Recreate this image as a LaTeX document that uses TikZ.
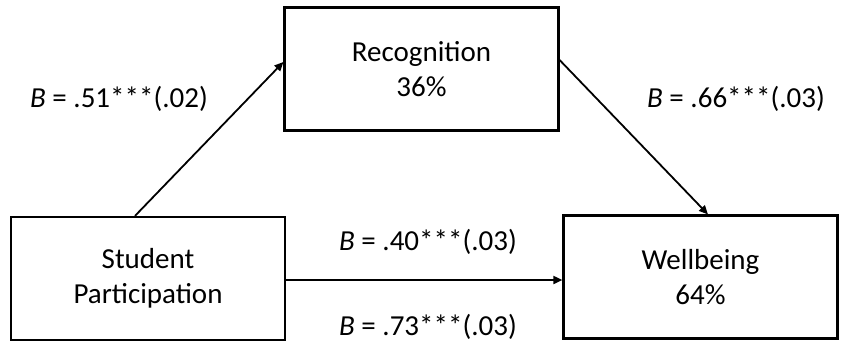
\documentclass[tikz,border=0pt]{standalone}
\usepackage{fontspec}
\setmainfont{Carlito}
\usetikzlibrary{arrows.meta}
\begin{document}
\begin{tikzpicture}[x=1pt,y=-1pt,
  box/.style={draw, line width=2.2pt, minimum width=274pt, minimum height=123pt, align=center, inner sep=0pt,
    font=\fontsize{29pt}{35pt}\selectfont},
  lab/.style={inner sep=0pt, font=\fontsize{29pt}{35pt}\selectfont},
  conn/.style={line width=1.8pt, -{Triangle[length=9pt,width=8pt]}}]
\useasboundingbox (0,0) rectangle (844,349);
\node[box] (sp) at (148,278.5) {Student\\Participation};
\node[box] (rec) at (421.5,69) {Recognition\\36\%};
\node[box] (wb) at (700.5,277) {Wellbeing\\64\%};
\draw[conn] ([xshift=-13pt]sp.north) -- ([yshift=7pt]rec.west);
\draw[conn] ([yshift=9pt]rec.east) -- ([xshift=7.5pt]wb.north);
\draw[conn] ([yshift=-1.5pt]sp.east) -- ([yshift=-1.5pt]sp.east -| wb.west);
\node[lab] (l1) at (119,99) {\textit{B} = .51***(.02)};
\node[lab] (l2) at (736,99) {\textit{B} = .66***(.03)};
\node[lab] (l3) at (428,242) {\textit{B} = .40***(.03)};
\node[lab] (l4) at (428,327) {\textit{B} = .73***(.03)};
\end{tikzpicture}
\end{document}
